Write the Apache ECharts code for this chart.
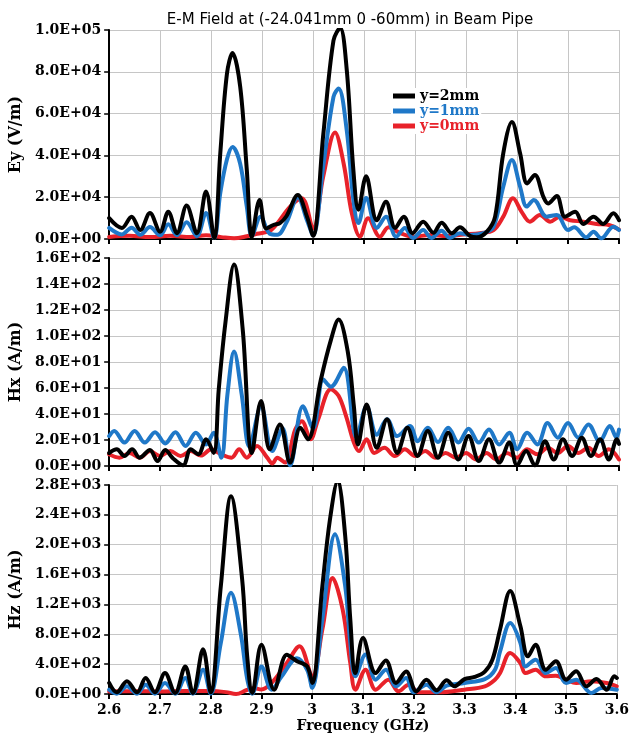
<!DOCTYPE html>
<html>
<head>
<meta charset="utf-8">
<script src="https://cdn.jsdelivr.net/npm/echarts@6.0.0/dist/echarts.min.js"></script>
<style>
  html, body { margin: 0; background: #fff; }
  #chart { width: 632px; height: 738px; }
</style>
</head>
<body>
<div id="chart"></div>
<script>
// frequency axis ticks (GHz)
const freqMin = 2.6;
const freqMax = 3.6;
const freqStep = 0.1;

const seriesNames = ["y=2mm", "y=1mm", "y=0mm"];
const seriesColors = ["#000000", "#1f78c8", "#e8222a"];

// Ey (V/m)
const eyY2 = [[2.600,10000],[2.625,5300],[2.644,10700],[2.661,4300],[2.680,12400],[2.700,3500],[2.716,13000],[2.733,2800],[2.752,16000],[2.772,2800],[2.790,22700],[2.806,500],[2.818,41000],[2.831,79000],[2.842,89000],[2.857,73000],[2.870,33000],[2.880,1000],[2.895,18700],[2.908,5000],[2.922,6700],[2.935,7600],[2.948,11000],[2.970,21000],[2.988,10700],[3.000,1500],[3.020,50000],[3.040,95000],[3.053,101000],[3.066,81000],[3.079,33000],[3.089,14000],[3.104,30000],[3.125,9000],[3.143,17800],[3.161,5300],[3.178,10700],[3.195,2800],[3.216,8300],[3.236,3000],[3.252,7800],[3.272,2800],[3.288,5600],[3.308,1400],[3.321,800],[3.341,3500],[3.357,10700],[3.373,41000],[3.390,56000],[3.406,41000],[3.420,26600],[3.435,30600],[3.452,20000],[3.461,17000],[3.478,20600],[3.494,10700],[3.514,13000],[3.530,7200],[3.550,10700],[3.569,7200],[3.589,12300],[3.600,9000]];
const eyY1 = [[2.600,5300],[2.625,2200],[2.644,5400],[2.661,2000],[2.680,5700],[2.700,1800],[2.716,7000],[2.733,1800],[2.752,8000],[2.772,1300],[2.790,12400],[2.806,500],[2.818,22000],[2.831,38000],[2.842,44000],[2.857,36000],[2.870,15500],[2.880,1500],[2.897,10700],[2.915,2500],[2.930,2000],[2.948,8000],[2.970,20000],[2.988,9000],[3.000,1800],[3.020,35000],[3.040,68000],[3.050,72000],[3.066,52000],[3.079,18700],[3.089,7600],[3.104,19600],[3.125,5300],[3.143,10700],[3.163,1100],[3.180,5300],[3.196,500],[3.216,4300],[3.232,500],[3.252,4000],[3.268,500],[3.288,2800],[3.308,1900],[3.334,2800],[3.354,5900],[3.373,25000],[3.390,37800],[3.406,25000],[3.419,15500],[3.433,18700],[3.458,10700],[3.478,11500],[3.500,4300],[3.512,5600],[3.536,800],[3.550,3500],[3.565,300],[3.589,5900],[3.600,4300]];
const eyY0 = [[2.600,1000],[2.640,1500],[2.680,1000],[2.720,1500],[2.760,1000],[2.790,1800],[2.820,900],[2.845,300],[2.870,1300],[2.890,2500],[2.918,4300],[2.955,15500],[2.978,19500],[3.000,5000],[3.020,30000],[3.043,51000],[3.060,36000],[3.076,12300],[3.092,1100],[3.108,9900],[3.131,1100],[3.148,5600],[3.171,2800],[3.196,1100],[3.229,1900],[3.262,1400],[3.295,2200],[3.327,2800],[3.354,4300],[3.373,10700],[3.392,19500],[3.409,13000],[3.425,8300],[3.445,11500],[3.465,8300],[3.484,10700],[3.504,9000],[3.530,8300],[3.556,7200],[3.582,6600],[3.600,4500]];

// Hx (A/m)
const hxY2 = [[2.600,10],[2.615,12.8],[2.630,7.7],[2.645,12.8],[2.660,6.4],[2.680,12.3],[2.695,3.8],[2.710,12.3],[2.725,6],[2.745,0.5],[2.760,12.8],[2.775,9],[2.790,20.5],[2.805,10],[2.815,59],[2.828,110],[2.845,155],[2.862,105],[2.880,10],[2.898,50],[2.915,12.8],[2.935,32],[2.955,2.6],[2.975,29.4],[2.990,20.5],[3.015,66],[3.035,97],[3.050,112.6],[3.068,88],[3.080,46],[3.088,16.6],[3.105,47.4],[3.125,14],[3.145,36],[3.165,10],[3.185,29.4],[3.205,7.7],[3.225,27],[3.245,6.4],[3.265,25.6],[3.285,5],[3.305,23],[3.325,3.8],[3.345,20.5],[3.365,2.6],[3.385,18],[3.400,0.5],[3.418,11.5],[3.435,0.5],[3.455,19],[3.472,5],[3.490,20.5],[3.508,7.7],[3.527,21.8],[3.545,7.7],[3.563,20.5],[3.580,5],[3.596,20.5],[3.600,17]];
const hxY1 = [[2.600,23],[2.610,27],[2.630,18],[2.650,27],[2.670,18],[2.690,26],[2.710,17.4],[2.730,26],[2.750,15.4],[2.770,25.6],[2.790,16.6],[2.805,25.6],[2.820,6.4],[2.832,55],[2.845,88],[2.860,55],[2.875,15],[2.898,46],[2.920,11.5],[2.940,29],[2.955,0.5],[2.980,46],[3.000,29],[3.020,66.5],[3.035,61],[3.060,75.5],[3.085,21.8],[3.105,46],[3.125,24],[3.145,36],[3.165,23],[3.190,30.7],[3.205,19],[3.225,29.4],[3.245,18.4],[3.265,29.4],[3.285,18],[3.305,28.7],[3.325,18],[3.345,28],[3.365,16.6],[3.385,25.6],[3.400,12.8],[3.420,25.6],[3.440,16.6],[3.460,33],[3.480,21.8],[3.500,33],[3.520,21.8],[3.540,32],[3.562,19],[3.582,30.7],[3.595,22],[3.600,28]];
const hxY0 = [[2.600,9],[2.620,6.4],[2.640,10],[2.660,6.4],[2.680,11.5],[2.700,7.7],[2.720,11.5],[2.740,7.7],[2.760,11.5],[2.780,8],[2.800,12.8],[2.820,9],[2.840,6.4],[2.855,12.8],[2.870,6.4],[2.890,15.4],[2.910,6.4],[2.920,2],[2.930,6.4],[2.945,2.6],[2.965,28],[2.978,34.5],[2.995,20.5],[3.010,36],[3.035,59],[3.050,54],[3.065,38],[3.080,18],[3.090,11.5],[3.105,20.5],[3.120,10],[3.140,14],[3.160,7.7],[3.180,12.8],[3.200,7.7],[3.220,11.5],[3.240,6.4],[3.260,10],[3.280,6.4],[3.300,10],[3.320,5],[3.340,10],[3.360,5],[3.380,10],[3.400,6.4],[3.420,12.8],[3.440,9],[3.460,14],[3.480,10],[3.500,15.4],[3.520,10],[3.540,14],[3.560,7.7],[3.580,12.8],[3.600,5]];

// Hz (A/m)
const hzY2 = [[2.600,148],[2.615,22],[2.635,170],[2.655,22],[2.672,215],[2.690,22],[2.710,280],[2.730,13],[2.750,370],[2.765,13],[2.785,600],[2.800,22],[2.820,1445],[2.840,2650],[2.862,1535],[2.872,500],[2.882,13],[2.900,660],[2.925,58],[2.950,525],[2.970,440],[2.990,370],[3.000,148],[3.020,1445],[3.035,2340],[3.050,2850],[3.065,2115],[3.075,1000],[3.085,280],[3.100,750],[3.125,280],[3.145,450],[3.165,148],[3.185,300],[3.205,36],[3.225,192],[3.245,50],[3.265,183],[3.280,103],[3.300,200],[3.320,228],[3.340,300],[3.355,460],[3.370,865],[3.390,1380],[3.410,910],[3.425,505],[3.440,660],[3.460,325],[3.480,440],[3.500,192],[3.520,305],[3.540,103],[3.560,200],[3.580,58],[3.595,237],[3.600,215]];
const hzY1 = [[2.600,58],[2.615,5],[2.635,103],[2.655,5],[2.672,125],[2.690,5],[2.710,148],[2.730,5],[2.750,215],[2.765,5],[2.785,325],[2.800,5],[2.820,685],[2.840,1355],[2.860,775],[2.872,200],[2.882,5],[2.900,370],[2.920,58],[2.940,237],[2.970,480],[2.990,325],[3.000,80],[3.020,1000],[3.045,2140],[3.065,1445],[3.075,685],[3.085,237],[3.105,528],[3.125,192],[3.145,325],[3.165,103],[3.185,215],[3.200,22],[3.225,125],[3.245,22],[3.265,112],[3.300,148],[3.340,200],[3.360,325],[3.370,570],[3.390,950],[3.410,685],[3.420,370],[3.440,460],[3.460,280],[3.480,350],[3.500,148],[3.520,192],[3.550,13],[3.570,80],[3.600,58]];
const hzY0 = [[2.600,35],[2.650,38],[2.700,35],[2.750,40],[2.800,40],[2.830,25],[2.850,0],[2.870,50],[2.885,80],[2.900,60],[2.920,148],[2.950,415],[2.975,640],[3.000,237],[3.020,865],[3.040,1555],[3.060,1130],[3.075,415],[3.085,58],[3.105,325],[3.125,58],[3.150,192],[3.170,36],[3.190,125],[3.210,22],[3.250,22],[3.300,58],[3.340,103],[3.360,192],[3.370,280],[3.390,550],[3.410,415],[3.420,280],[3.440,325],[3.460,237],[3.480,245],[3.500,192],[3.520,148],[3.550,170],[3.580,148],[3.600,103]];

// y-axis ranges: [max, interval]
const eyAxis = [100000, 20000];
const hxAxis = [160, 20];
const hzAxis = [2800, 400];
const axisNames = ["Ey (V/m)", "Hx (A/m)", "Hz (A/m)"];

const serif = "DejaVu Serif";

function sci(v) {
  const parts = Number(v).toExponential(1).split("e");
  const exp = parseInt(parts[1], 10);
  const sign = exp < 0 ? "-" : "+";
  return parts[0] + "E" + sign + String(Math.abs(exp)).padStart(2, "0");
}

const grids = [
  { left: 109, right: 13, top: 30, height: 209 },
  { left: 109, right: 13, top: 258, height: 208 },
  { left: 109, right: 13, top: 485, height: 209 },
];

function xAxisFor(i, last) {
  return {
    type: "value",
    gridIndex: i,
    min: freqMin,
    max: freqMax,
    interval: freqStep,
    name: last ? "Frequency (GHz)" : "",
    nameLocation: "middle",
    nameGap: 25,
    nameTextStyle: { fontFamily: serif, fontWeight: "bold", fontSize: 14, color: "#000" },
    axisLine: { lineStyle: { color: "#000", width: 2 } },
    axisTick: { show: true, length: 5, lineStyle: { color: "#000", width: 2 } },
    axisLabel: {
      show: last,
      margin: 9,
      fontFamily: serif,
      fontWeight: "bold",
      fontSize: 14,
      color: "#000",
      formatter: (v) => String(parseFloat(v.toFixed(1))),
    },
    splitLine: { show: true, lineStyle: { color: "#c6c6c6", width: 1 } },
  };
}

function yAxisFor(i, range) {
  return {
    type: "value",
    gridIndex: i,
    min: 0,
    max: range[0],
    interval: range[1],
    name: axisNames[i],
    nameLocation: "middle",
    nameGap: 81,
    nameTextStyle: { fontFamily: serif, fontWeight: "bold", fontSize: 16, color: "#000" },
    axisLine: { show: true, lineStyle: { color: "#000", width: 2 } },
    axisTick: { show: true, length: 5, lineStyle: { color: "#000", width: 1.5 } },
    axisLabel: {
      margin: 8,
      fontFamily: serif,
      fontWeight: "bold",
      fontSize: 14,
      color: "#000",
      formatter: sci,
    },
    splitLine: { show: true, lineStyle: { color: "#c6c6c6", width: 1 } },
  };
}

function lineSeries(name, color, data, idx) {
  return {
    name: name,
    type: "line",
    xAxisIndex: idx,
    yAxisIndex: idx,
    data: data,
    smooth: 0.35,
    showSymbol: false,
    clip: true,
    lineStyle: { color: color, width: 4, cap: "round", join: "round" },
    itemStyle: { color: color },
    animation: false,
  };
}

const panels = [
  [eyY2, eyY1, eyY0],
  [hxY2, hxY1, hxY0],
  [hzY2, hzY1, hzY0],
];

const series = [];
panels.forEach((sets, p) => {
  // red first, black last so black sits on top
  for (let k = 2; k >= 0; k--) {
    series.push(lineSeries(seriesNames[k], seriesColors[k], sets[k], p));
  }
});

const chart = echarts.init(document.getElementById("chart"), null, { renderer: "canvas" });
chart.setOption({
  animation: false,
  backgroundColor: "#fff",
  title: {
    text: "E-M Field at (-24.041mm 0 -60mm) in Beam Pipe",
    left: 345,
    textAlign: "center",
    top: 8,
    textStyle: { fontFamily: "DejaVu Sans", fontWeight: "normal", fontSize: 15, color: "#000" },
  },
  legend: {
    orient: "vertical",
    left: 391,
    top: 88,
    itemWidth: 22,
    itemHeight: 5,
    itemGap: 1,
    icon: "rect",
    padding: [1, 2, 1, 2],
    backgroundColor: "#fff",
    selectedMode: false,
    textStyle: { fontFamily: serif, fontWeight: "bold", fontSize: 14 },
    data: seriesNames.map((n, i) => ({ name: n, textStyle: { color: seriesColors[i] } })),
  },
  grid: grids,
  xAxis: [xAxisFor(0, false), xAxisFor(1, false), xAxisFor(2, true)],
  yAxis: [yAxisFor(0, eyAxis), yAxisFor(1, hxAxis), yAxisFor(2, hzAxis)],
  series: series,
});
</script>
</body>
</html>
